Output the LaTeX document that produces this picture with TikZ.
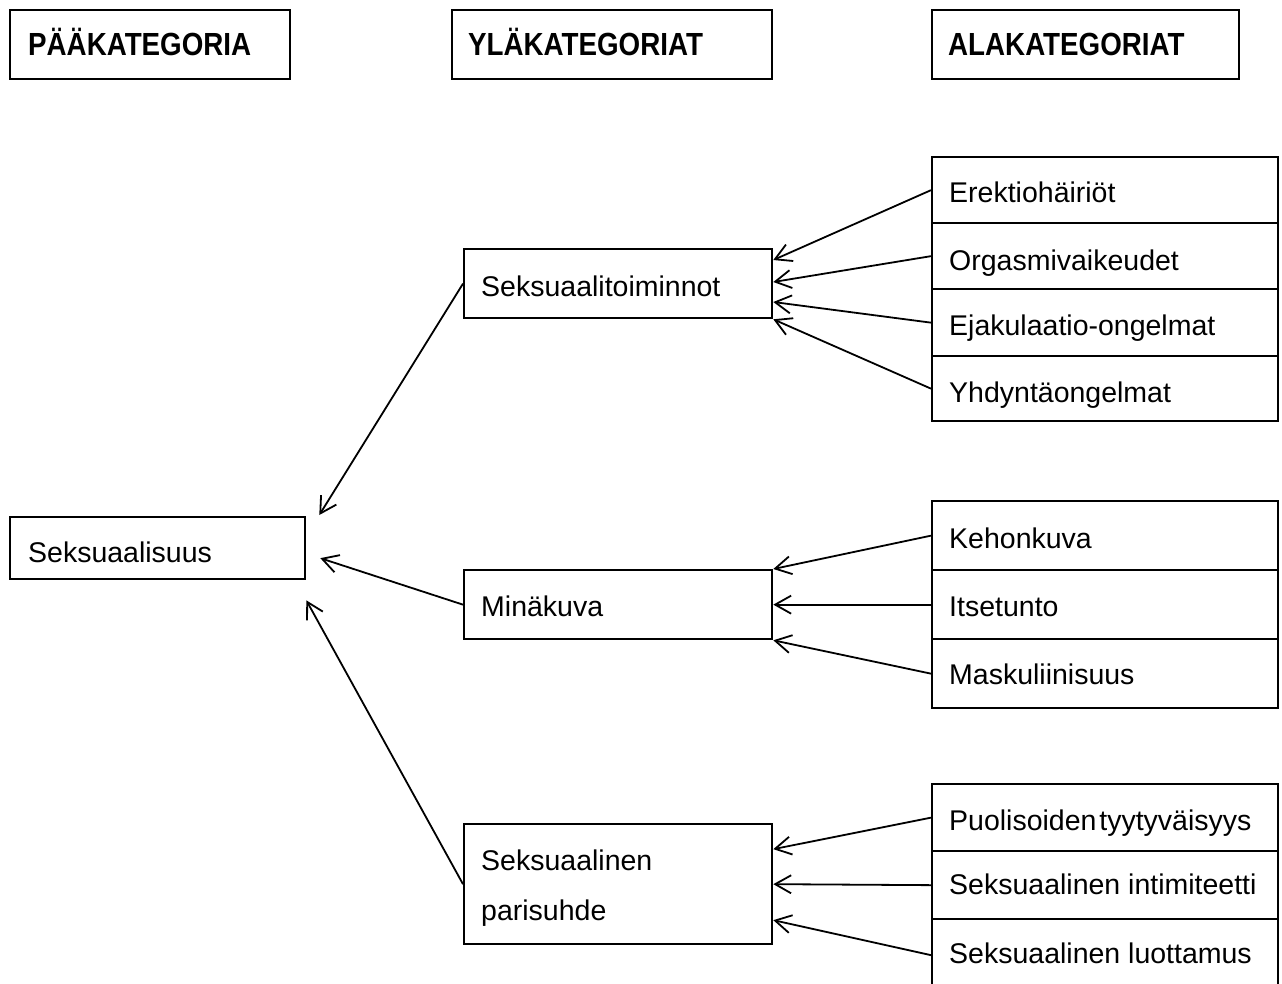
\documentclass[tikz,border=0pt]{standalone}
\usepackage{fontspec}
\setmainfont{Liberation Sans}
\usetikzlibrary{arrows.meta,calc}
\begin{document}
\begin{tikzpicture}[x=1pt,y=-1pt,
  box/.style={draw, line width=2.3pt, inner sep=0pt, anchor=north west},
  txt/.style={anchor=base west, inner sep=0pt, font=\fontsize{28.5}{34}\selectfont},
  head/.style={anchor=base west, inner sep=0pt, font=\fontsize{32}{38}\selectfont\bfseries},
  arr/.style={line width=1.8pt, -{Straight Barb[length=16pt,width=18pt,line width=1.8pt]}}]
\useasboundingbox (0,0) rectangle (1282,983);

% header boxes
\node[box, minimum width=280, minimum height=69] (h1) at (9,9) {};
\node[box, minimum width=320, minimum height=69] (h2) at (451,9) {};
\node[box, minimum width=307, minimum height=69] (h3) at (931,9) {};
\node[head] (h1t) at (28,55) {\scalebox{0.867}[1]{PÄÄKATEGORIA}};
\node[head] (h2t) at (468,55) {\scalebox{0.867}[1]{YLÄKATEGORIAT}};
\node[head] (h3t) at (948,55) {\scalebox{0.867}[1]{ALAKATEGORIAT}};

% main category
\node[box, minimum width=295, minimum height=62] (m) at (9,516) {};
\node[txt] (mt) at (28,562) {Seksuaalisuus};

% upper categories
\node[box, minimum width=308, minimum height=69] (u1) at (463,248) {};
\node[txt] (u1t) at (481,296) {Seksuaalitoiminnot};
\node[box, minimum width=308, minimum height=69] (u2) at (463,569) {};
\node[txt] (u2t) at (481,616) {Minäkuva};
\node[box, minimum width=308, minimum height=120] (u3) at (463,823) {};
\node[txt] (u3t) at (481,870) {Seksuaalinen};
\node[txt] (u3u) at (481,920) {parisuhde};

% sub categories group 1
\node[box, minimum width=346, minimum height=66] (a1) at (931,156) {};
\node[box, minimum width=346, minimum height=66] (a2) at (931,222) {};
\node[box, minimum width=346, minimum height=67] (a3) at (931,288) {};
\node[box, minimum width=346, minimum height=65] (a4) at (931,355) {};
\node[txt] (a1t) at (949,202) {Erektiohäiriöt};
\node[txt] (a2t) at (949,270) {Orgasmivaikeudet};
\node[txt] (a3t) at (949,335) {Ejakulaatio-ongelmat};
\node[txt] (a4t) at (949,402) {Yhdyntäongelmat};

% group 2
\node[box, minimum width=346, minimum height=69] (b1) at (931,500) {};
\node[box, minimum width=346, minimum height=69] (b2) at (931,569) {};
\node[box, minimum width=346, minimum height=69] (b3) at (931,638) {};
\node[txt] (b1t) at (949,548) {Kehonkuva};
\node[txt] (b2t) at (949,616) {Itsetunto};
\node[txt] (b3t) at (949,684) {Maskuliinisuus};

% group 3
\node[box, minimum width=346, minimum height=67] (c1) at (931,783) {};
\node[box, minimum width=346, minimum height=68] (c2) at (931,850) {};
\node[box, minimum width=346, minimum height=72] (c3) at (931,918) {};
\node[txt] (c1t) at (949,830) {Puolisoiden\hspace{0.1em}tyytyväisyys};
\node[txt] (c2t) at (949,894) {Seksuaalinen intimiteetti};
\node[txt] (c3t) at (949,963) {Seksuaalinen luottamus};

% arrows to Seksuaalitoiminnot
\draw[arr] (a1.west) -- ([yshift=-12]u1.north east);
\draw[arr] (a2.west) -- ([yshift=-34]u1.north east);
\draw[arr] (a3.west) -- ([yshift=-54]u1.north east);
\draw[arr] (a4.west) -- (u1.south east);

% arrows to Minäkuva
\draw[arr] (b1.west) -- (u2.north east);
\draw[arr] (b2.west) -- (u2.east);
\draw[arr] (b3.west) -- (u2.south east);

% arrows to parisuhde
\draw[arr] (c1.west) -- ([yshift=35]u3.east);
\draw[arr] (c2.west) -- (u3.east);
\draw[arr] (c3.west) -- ([yshift=-36]u3.east);

% arrows to Seksuaalisuus
\draw[arr] (u1.west) -- ([xshift=13,yshift=1]m.north east);
\draw[arr] (u2.west) -- ([xshift=14,yshift=-10]m.east);
\draw[arr] (u3.west) -- ([yshift=-20]m.south east);
\end{tikzpicture}
\end{document}
